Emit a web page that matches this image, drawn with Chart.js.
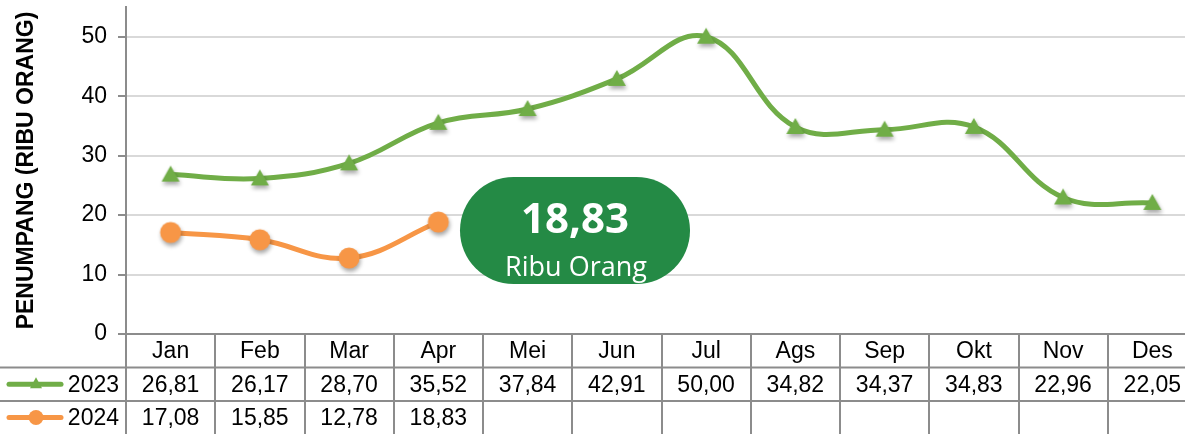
<!DOCTYPE html>
<html>
<head>
<meta charset="utf-8">
<style>
  html, body { margin: 0; padding: 0; background: #fff; overflow: hidden; }
</style>
</head>
<body>
<canvas id="paxChart" width="1197" height="434"></canvas>

<script src="https://cdn.jsdelivr.net/npm/chart.js"></script>
<script>
  const months = ["Jan", "Feb", "Mar", "Apr", "Mei", "Jun", "Jul", "Ags", "Sep", "Okt", "Nov", "Des"];
  const pax2023 = [26.81, 26.17, 28.7, 35.52, 37.84, 42.91, 50.0, 34.82, 34.37, 34.83, 22.96, 22.05];
  const pax2024 = [17.08, 15.85, 12.78, 18.83];
  const seriesNames = ["2023", "2024"];

  const GREEN = "#70ad47";
  const ORANGE = "#f79646";
  const FONT = "'Liberation Sans', Arial, sans-serif";

  const fmt = (v) => v.toFixed(2).replace(".", ",");

  // marker images with a soft drop shadow, like the Excel original
  function makeMarker(kind, color) {
    const c = document.createElement("canvas");
    c.width = 40;
    c.height = 40;
    const g = c.getContext("2d");
    g.shadowColor = "rgba(0,0,0,0.35)";
    g.shadowBlur = 4;
    g.shadowOffsetX = 1;
    g.shadowOffsetY = 3;
    g.fillStyle = color;
    g.beginPath();
    if (kind === "tri") {
      g.moveTo(20, 11);
      g.lineTo(29, 27);
      g.lineTo(11, 27);
      g.closePath();
    } else {
      g.arc(20, 20, 10.5, 0, Math.PI * 2);
    }
    g.fill();
    return c;
  }

  const triMarker = makeMarker("tri", GREEN);
  const dotMarker = makeMarker("dot", ORANGE);

  // drop the extra label padding so the plot fills the same box as the original
  function noPad(scale) {
    scale.paddingTop = 0;
    scale.paddingBottom = 0;
    scale.paddingLeft = 0;
    scale.paddingRight = 0;
  }

  // data table under the plot (months header is the x axis itself)
  const dataTable = {
    id: "dataTable",
    afterDraw(chart) {
      const ctx = chart.ctx;
      const area = chart.chartArea;
      const xs = chart.scales.x;
      const colW = (area.right - area.left) / months.length;
      const rowY = [area.bottom, area.bottom + 33.5, area.bottom + 67, area.bottom + 100];

      ctx.save();
      ctx.strokeStyle = "#8c8c8c";
      ctx.lineWidth = 2;
      ctx.beginPath();
      ctx.moveTo(0, rowY[1]);
      ctx.lineTo(area.right, rowY[1]);
      ctx.moveTo(0, rowY[2]);
      ctx.lineTo(area.right, rowY[2]);
      for (let i = 0; i <= months.length; i++) {
        const x = Math.round(area.left + i * colW);
        ctx.moveTo(x, area.bottom);
        ctx.lineTo(x, rowY[3]);
      }
      ctx.stroke();

      const rows = [pax2023, pax2024];
      const colors = [GREEN, ORANGE];
      ctx.font = "23px " + FONT;
      ctx.textBaseline = "middle";
      rows.forEach((vals, r) => {
        const cy = (rowY[r + 1] + rowY[r + 2]) / 2 + 1;
        ctx.fillStyle = "#000";
        ctx.textAlign = "center";
        vals.forEach((v, i) => {
          ctx.fillText(fmt(v), xs.getPixelForValue(i), cy);
        });
        ctx.textAlign = "right";
        ctx.fillText(seriesNames[r], 119, cy);

        // legend key
        ctx.strokeStyle = colors[r];
        ctx.lineWidth = 5;
        ctx.lineCap = "round";
        ctx.beginPath();
        ctx.moveTo(9, cy - 1);
        ctx.lineTo(61, cy - 1);
        ctx.stroke();
        ctx.fillStyle = colors[r];
        ctx.beginPath();
        if (r === 0) {
          ctx.moveTo(36, cy - 8);
          ctx.lineTo(42, cy + 3);
          ctx.lineTo(30, cy + 3);
          ctx.closePath();
        } else {
          ctx.arc(36, cy - 1, 7.5, 0, Math.PI * 2);
        }
        ctx.fill();
      });
      ctx.restore();
    },
  };

  // green call-out with the latest 2024 value
  const callout = {
    id: "callout",
    afterDraw(chart) {
      const ctx = chart.ctx;
      const last = pax2024[pax2024.length - 1];
      ctx.save();
      ctx.fillStyle = "#248a45";
      ctx.beginPath();
      ctx.roundRect(460, 177, 230, 107, 53.5);
      ctx.fill();
      ctx.fillStyle = "#fff";
      ctx.textAlign = "center";
      ctx.textBaseline = "alphabetic";
      ctx.font = "bold 42px 'Open Sans', sans-serif";
      ctx.fillText(fmt(last), 575, 233);
      ctx.font = "27px 'Open Sans', sans-serif";
      ctx.fillText("Ribu Orang", 576, 276);
      ctx.restore();
    },
  };

  const ctx = document.getElementById("paxChart").getContext("2d");

  const paxChart = new Chart(ctx, {
    type: "line",
    data: {
      labels: months,
      datasets: [
        {
          label: seriesNames[0],
          data: pax2023,
          borderColor: GREEN,
          backgroundColor: GREEN,
          borderWidth: 5,
          tension: 0.4,
          pointStyle: triMarker,
          pointRadius: 10,
        },
        {
          label: seriesNames[1],
          data: pax2024,
          borderColor: ORANGE,
          backgroundColor: ORANGE,
          borderWidth: 5,
          tension: 0.4,
          pointStyle: dotMarker,
          pointRadius: 12,
        },
      ],
    },
    options: {
      responsive: false,
      animation: false,
      layout: { autoPadding: false, padding: { top: 7, left: 0, right: 0, bottom: 0 } },
      plugins: {
        legend: { display: false },
        tooltip: { enabled: false },
      },
      scales: {
        x: {
          offset: true,
          grid: { display: false, drawTicks: false },
          border: { color: "#8c8c8c", width: 2 },
          ticks: {
            color: "#000",
            font: { family: FONT, size: 23 },
            padding: 4,
            maxRotation: 0,
          },
          afterFit(scale) {
            scale.height = 100;
            noPad(scale);
          },
        },
        y: {
          min: 0,
          max: 55,
          grid: { color: "#d9d9d9", lineWidth: 2, tickLength: 8, tickColor: "#8c8c8c" },
          border: { color: "#8c8c8c", width: 2 },
          ticks: {
            stepSize: 10,
            includeBounds: false,
            color: "#000",
            font: { family: FONT, size: 23 },
            padding: 11,
          },
          title: {
            display: true,
            text: "PENUMPANG (RIBU ORANG)",
            color: "#000",
            font: { family: FONT, size: 23, weight: "bold" },
            padding: { top: 13, bottom: 0 },
          },
          afterFit(scale) {
            scale.width = 126;
            noPad(scale);
          },
        },
      },
    },
    plugins: [dataTable, callout],
  });
</script>
</body>
</html>
